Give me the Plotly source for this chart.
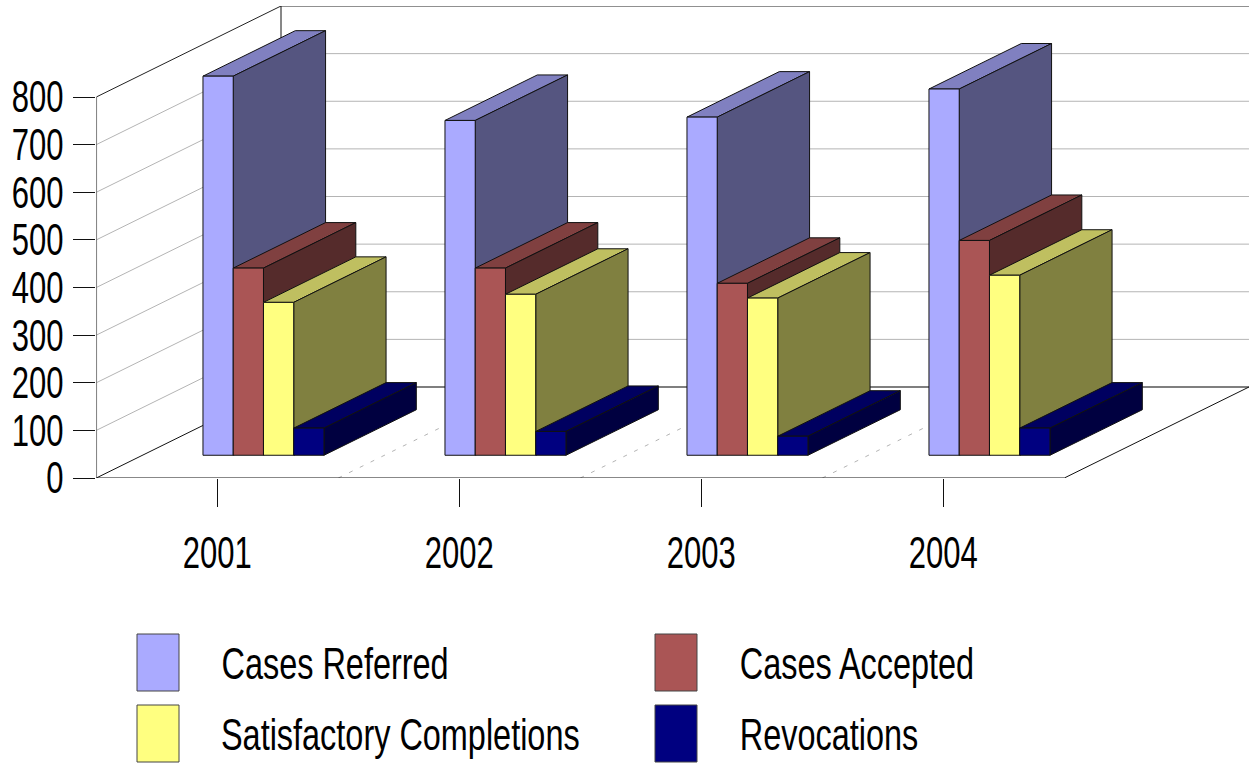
import plotly.graph_objects as go

years = ["2001", "2002", "2003", "2004"]
series_names = ["Cases Referred", "Cases Accepted", "Satisfactory Completions", "Revocations"]
cases_referred = [796, 703, 710, 769]
cases_accepted = [393, 393, 361, 451]
satisfactory_completions = [321, 338, 330, 378]
revocations = [57, 50, 40, 57]
y_ticks = [0, 100, 200, 300, 400, 500, 600, 700, 800]

series_values = [cases_referred, cases_accepted, satisfactory_completions, revocations]
front_colors = ["#AAAAFF", "#AA5555", "#FFFF80", "#000080"]
top_colors = ["#8080C0", "#804040", "#BFBF60", "#000060"]
side_colors = ["#555580", "#552B2B", "#808040", "#000040"]

W, H = 1249, 765
X0, Y0 = 96.3, 478          # pixel position of the front-left floor corner
CAT_PX = 242                # pixels per category
UNIT_PX = 381 / 800         # pixels per value unit
DEPTH_X, DEPTH_Y = 184.7, 91  # oblique projection of the full depth, pixels
WALL_TOP = 6
FONT = "Liberation Sans, Arial, sans-serif"
FONT_SIZE = 44


def proj(x, v, d):
    """category position, value, depth (0..1) -> axis coordinates"""
    return x + d * DEPTH_X / CAT_PX, v + d * DEPTH_Y / UNIT_PX


def line(points, color, width=1, dash=None):
    xs, ys = zip(*[proj(*p) for p in points])
    return go.Scatter(x=xs, y=ys, mode="lines", hoverinfo="skip", showlegend=False,
                      line=dict(color=color, width=width, dash=dash))


def poly(points, fill, name):
    pts = [proj(*p) for p in points] + [proj(*points[0])]
    xs, ys = zip(*pts)
    return go.Scatter(x=xs, y=ys, mode="lines", fill="toself", fillcolor=fill, name=name,
                      showlegend=False, hoverinfo="name",
                      line=dict(color="#111111", width=1))


fig = go.Figure()
n = len(years)

# walls: gridlines
for t in y_ticks[1:-1]:
    fig.add_trace(line([(0, t, 0), (0, t, 1), (n, t, 1)], "#B4B4B4"))
# floor gridlines
for i in range(1, n):
    fig.add_trace(line([(i, 0, 0), (i, 0, 1)], "#B4B4B4", 1, "4px,8px"))
# frame
top = y_ticks[-1]
fig.add_trace(line([(0, top, 0), (0, top, 1), (n, top, 1)], "#222222"))
fig.add_trace(line([(0, 0, 1), (0, top, 1)], "#111111"))
fig.add_trace(line([(0, 0, 0), (0, top, 0)], "#555555", 1.5))
fig.add_trace(line([(0, 0, 1), (n, 0, 1)], "#555555", 1.5))
fig.add_trace(line([(0, 0, 0), (0, 0, 1)], "#111111"))
fig.add_trace(line([(0, 0, 0), (n, 0, 0), (n, 0, 1)], "#111111"))

# bars
GAP, BAR_D = 0.25, 0.5
BAR_W = 0.125
for i in range(n):
    left = i + 0.25
    for s, vals in enumerate(series_values):
        v = vals[i]
        a, b = left + s * BAR_W, left + (s + 1) * BAR_W
        d0, d1 = GAP, GAP + BAR_D
        name = f"{series_names[s]} {years[i]}: {v}"
        fig.add_trace(poly([(a, v, d0), (b, v, d0), (b, v, d1), (a, v, d1)], top_colors[s], name))
        fig.add_trace(poly([(b, 0, d0), (b, 0, d1), (b, v, d1), (b, v, d0)], side_colors[s], name))
        fig.add_trace(poly([(a, 0, d0), (b, 0, d0), (b, v, d0), (a, v, d0)], front_colors[s], name))

# legend, laid out on the page: swatch x, swatch y, label centre x
legend_layout = [(137, 634, 334.5), (655, 634, 857), (137, 705, 400), (655, 705, 828.5)]
shapes, annotations = [], []
for (lx, ly, cx), name, color in zip(legend_layout, series_names, front_colors):
    shapes.append(dict(type="rect", xref="paper", yref="paper",
                       x0=lx / W, x1=(lx + 42) / W, y0=1 - ly / H, y1=1 - (ly + 57) / H,
                       fillcolor=color, line=dict(color="#444444", width=1)))
    annotations.append(dict(xref="paper", yref="paper", x=cx / W, y=1 - (ly + 29) / H,
                            xanchor="center", yanchor="middle", showarrow=False, text=name,
                            font=dict(family=FONT, size=FONT_SIZE, color="black")))

fig.update_layout(
    width=W, height=H, margin=dict(l=0, r=0, t=0, b=0, pad=0),
    paper_bgcolor="white", plot_bgcolor="rgba(0,0,0,0)",
    showlegend=False, shapes=shapes, annotations=annotations,
    font=dict(family=FONT, size=FONT_SIZE, color="black"),
    xaxis=dict(domain=[X0 / W, 1], range=[0, (W - X0) / CAT_PX], showgrid=False, zeroline=False,
               automargin=False,
               showline=False, tickmode="array", tickvals=[i + 0.5 for i in range(n)], ticktext=years,
               ticks="outside", ticklen=28, tickwidth=1, tickcolor="#111111", ticklabelstandoff=8),
    yaxis=dict(domain=[1 - Y0 / H, 1 - WALL_TOP / H], range=[0, (Y0 - WALL_TOP) / UNIT_PX],
               automargin=False,
               showgrid=False, zeroline=False, showline=False, tickmode="array", tickvals=y_ticks,
               ticks="outside", ticklen=22, tickwidth=1, tickcolor="#111111", ticklabelstandoff=1),
)

# Arial Narrow look: the sandbox has no narrow face, so condense the real text elements
POST = """
document.body.style.margin='0';
function condense(sel, k){
  document.querySelectorAll(sel).forEach(function(t){
    t.setAttribute('textLength', t.getComputedTextLength() * k);
    t.setAttribute('lengthAdjust', 'spacingAndGlyphs');
  });
}
condense('.xtick text, .ytick text', 0.705);
condense('.annotation-text', 0.737);
"""
fig.write_html("out.html", post_script=POST, config={"displayModeBar": False})
